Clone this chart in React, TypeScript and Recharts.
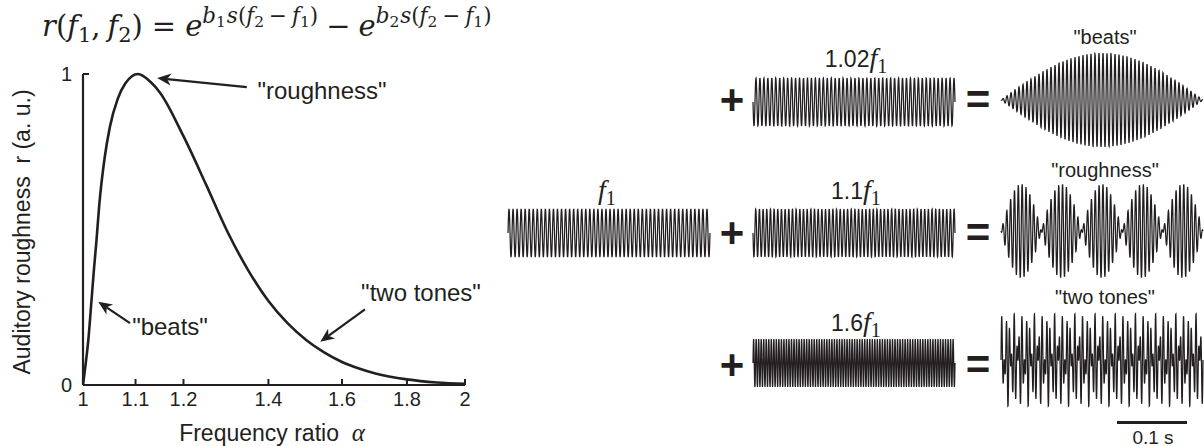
import React from "react";
import { LineChart, Line, XAxis, YAxis, ReferenceLine } from "recharts";

// left panel: roughness curve
const alphaValues = [1, 1.005, 1.01, 1.015, 1.02, 1.025, 1.03, 1.04, 1.05, 1.065, 1.08, 1.105, 1.13, 1.15, 1.2, 1.25, 1.3, 1.35, 1.4, 1.45, 1.5, 1.55, 1.6, 1.65, 1.7, 1.8, 1.9, 2];
const roughnessValues = [0, 0.07, 0.15, 0.26, 0.37, 0.47, 0.58, 0.73, 0.83, 0.92, 0.97, 1.0, 0.975, 0.94, 0.8, 0.645, 0.492, 0.368, 0.27, 0.198, 0.144, 0.104, 0.074, 0.053, 0.037, 0.018, 0.008, 0.0035];
const alphaTicks = [1, 1.1, 1.2, 1.4, 1.6, 1.8, 2];
const rTicks = [0, 1];

// right panel: tone pairs (cycles of f1 counted across one trace)
const baseCycles = 50;
const partnerRatios = [1.02, 1.1, 1.6];
const partnerLabels = ["1.02", "1.1", "1.6"];
const resultLabels = ['"beats"', '"roughness"', '"two tones"'];
const traceSamples = 1200;

const INK = "#231f20";
const SANS = "'Liberation Sans', Arial, sans-serif";
const SERIF = "'Liberation Serif', 'Times New Roman', serif";
const MATH = "'DejaVu Serif', 'Liberation Serif', serif";

const curveData = alphaValues.map((a, i) => ({ alpha: a, r: roughnessValues[i] }));

function traceData(ratios: number[]) {
  const rows: { t: number; v: number }[] = [];
  for (let i = 0; i <= traceSamples; i++) {
    const t = i / traceSamples;
    let v = 0;
    ratios.forEach((k) => {
      v += Math.sin(2 * Math.PI * baseCycles * k * (t - 0.5));
    });
    rows.push({ t, v });
  }
  return rows;
}

const Arrow = (p: any) => {
  const { x1, y1, x2, y2 } = p;
  const ang = Math.atan2(y2 - y1, x2 - x1);
  const L = 14;
  const W = 6;
  const c = Math.cos(ang);
  const s = Math.sin(ang);
  const bx = x2 - L * c;
  const by = y2 - L * s;
  const nx = x2 - L * 0.72 * c;
  const ny = y2 - L * 0.72 * s;
  return (
    <g>
      <line x1={x1} y1={y1} x2={nx} y2={ny} stroke={INK} strokeWidth={2.2} />
      <polygon
        points={`${x2},${y2} ${bx - s * W},${by + c * W} ${nx},${ny} ${bx + s * W},${by - c * W}`}
        fill={INK}
      />
    </g>
  );
};

const XTick = (p: any) => {
  const { x, y, payload } = p;
  return (
    <g>
      <line x1={x} y1={y} x2={x} y2={y - 6} stroke={INK} strokeWidth={2} />
      <text x={x} y={y + 21} textAnchor="middle" fontFamily={SANS} fontSize={20} fill={INK}>
        {payload.value}
      </text>
    </g>
  );
};

const YTick = (p: any) => {
  const { x, y, payload } = p;
  return (
    <g>
      {payload.value > 0 && <line x1={x} y1={y} x2={x + 6} y2={y} stroke={INK} strokeWidth={2} />}
      <text x={x - 11} y={y + 7} textAnchor="end" fontFamily={SANS} fontSize={20} fill={INK}>
        {payload.value}
      </text>
    </g>
  );
};

function Txt({ x, y, size, children, style }: any) {
  return (
    <div
      style={{
        position: "absolute",
        left: x,
        top: y,
        transform: "translate(-50%, -50%)",
        fontFamily: SANS,
        fontSize: size,
        lineHeight: 1,
        whiteSpace: "nowrap",
        color: INK,
        ...style,
      }}
    >
      {children}
    </div>
  );
}

const Sub = ({ children }: any) => (
  <sub style={{ fontStyle: "normal", fontSize: "0.72em", verticalAlign: "-0.28em", lineHeight: 0 }}>{children}</sub>
);

const F = ({ n, font = SERIF }: any) => (
  <span style={{ fontFamily: font, fontStyle: "italic" }}>
    f<Sub>{n}</Sub>
  </span>
);

const Exponent = ({ b }: any) => (
  <sup style={{ fontSize: "0.74em", verticalAlign: "0.6em", lineHeight: 0 }}>
    <i>b</i>
    <Sub>{b}</Sub>
    <i style={{ marginLeft: 1 }}>s</i>(<F n={2} font={MATH} />
    <span style={{ margin: "0 5px" }}>−</span>
    <F n={1} font={MATH} />)
  </sup>
);

function Trace({ data, left, top, width, amp, height }: any) {
  return (
    <div style={{ position: "absolute", left, top }}>
      <LineChart width={width} height={height} data={data} margin={{ top: 2, right: 1, bottom: 2, left: 1 }}>
        <XAxis dataKey="t" type="number" domain={[0, 1]} hide />
        <YAxis type="number" domain={[-amp, amp]} hide />
        <Line dataKey="v" type="linear" stroke={INK} strokeWidth={1.25} dot={false} isAnimationActive={false} />
      </LineChart>
    </div>
  );
}

const rowTop = [76, 207, 337];
const resultTop = [51, 182, 311];
const rowMid = [100, 233, 365];
const labelMid = [58, 190, 322];
const resultLabelMid = [37, 170, 297];

export default function App() {
  const f1Data = traceData([1]);
  return (
    <div style={{ position: "fixed", left: 0, top: 0, width: 1204, height: 446, background: "#fff", overflow: "hidden" }}>
      {/* formula */}
      <div style={{ position: "absolute", left: 42, top: 12, fontFamily: MATH, fontSize: 29, color: INK, whiteSpace: "nowrap", lineHeight: 1 }}>
        <i>r</i>(<F n={1} font={MATH} />,<span style={{ marginLeft: 7 }} />
        <F n={2} font={MATH} />)<span style={{ margin: "0 9px" }}>=</span>
        <i>e</i>
        <Exponent b={1} />
        <span style={{ margin: "0 8px" }}>−</span>
        <i>e</i>
        <Exponent b={2} />
      </div>

      {/* left: roughness curve */}
      <div style={{ position: "absolute", left: 0, top: 0 }}>
        <LineChart width={480} height={446} data={curveData} margin={{ top: 74, right: 15, bottom: 31, left: 53 }}>
          <XAxis
            dataKey="alpha"
            type="number"
            scale="log"
            domain={[1, 2]}
            ticks={alphaTicks}
            interval={0}
            allowDataOverflow
            height={30}
            tickSize={0}
            tickMargin={0}
            tickLine={false}
            axisLine={{ stroke: INK, strokeWidth: 2.2 }}
            tick={<XTick />}
          />
          <YAxis
            type="number"
            domain={[0, 1]}
            ticks={rTicks}
            interval={0}
            width={30}
            tickSize={0}
            tickMargin={0}
            tickLine={false}
            axisLine={{ stroke: INK, strokeWidth: 2.2 }}
            tick={<YTick />}
          />
          <Line dataKey="r" type="monotone" stroke={INK} strokeWidth={2.6} dot={false} isAnimationActive={false} />
          <ReferenceLine segment={[{ x: 1.346, y: 0.958 }, { x: 1.144, y: 0.987 }]} shape={Arrow} ifOverflow="visible" />
          <ReferenceLine segment={[{ x: 1.089, y: 0.199 }, { x: 1.028, y: 0.268 }]} shape={Arrow} ifOverflow="visible" />
          <ReferenceLine segment={[{ x: 1.668, y: 0.243 }, { x: 1.538, y: 0.139 }]} shape={Arrow} ifOverflow="visible" />
        </LineChart>
      </div>

      <Txt x={322} y={91} size={24}>"roughness"</Txt>
      <Txt x={170} y={327} size={24}>"beats"</Txt>
      <Txt x={421} y={293} size={24}>"two tones"</Txt>
      <Txt x={22} y={232} size={23} style={{ transform: "translate(-50%, -50%) rotate(-90deg)" }}>
        Auditory roughness&nbsp;&nbsp;r (a. u.)
      </Txt>
      <Txt x={272} y={432} size={23}>
        Frequency ratio&nbsp;&nbsp;<span style={{ fontFamily: SERIF, fontStyle: "italic", fontSize: 25 }}>α</span>
      </Txt>

      {/* right: waveforms */}
      <Txt x={607} y={190} size={28}>
        <F n={1} />
      </Txt>
      <Trace data={f1Data} left={507} top={207} width={204} height={52} amp={1} />

      {partnerRatios.map((k, i) => (
        <React.Fragment key={k}>
          <Txt x={732} y={rowMid[i]} size={42} style={{ fontWeight: 700 }}>+</Txt>
          <Txt x={978} y={rowMid[i]} size={42} style={{ fontWeight: 700 }}>=</Txt>
          <Txt x={856} y={labelMid[i]} size={23}>
            {partnerLabels[i]}
            <span style={{ fontSize: 28 }}>
              <F n={1} />
            </span>
          </Txt>
          <Trace data={traceData([k])} left={752} top={rowTop[i]} width={204} height={52} amp={1} />
          <Txt x={1105} y={resultLabelMid[i]} size={20}>{resultLabels[i]}</Txt>
          <Trace data={traceData([1, k])} left={1000} top={resultTop[i]} width={204} height={98} amp={2} />
        </React.Fragment>
      ))}

      {/* scale bar */}
      <div style={{ position: "absolute", left: 1117, top: 421, width: 70, height: 3, background: INK }} />
      <Txt x={1153} y={437} size={19}>0.1 s</Txt>
    </div>
  );
}
